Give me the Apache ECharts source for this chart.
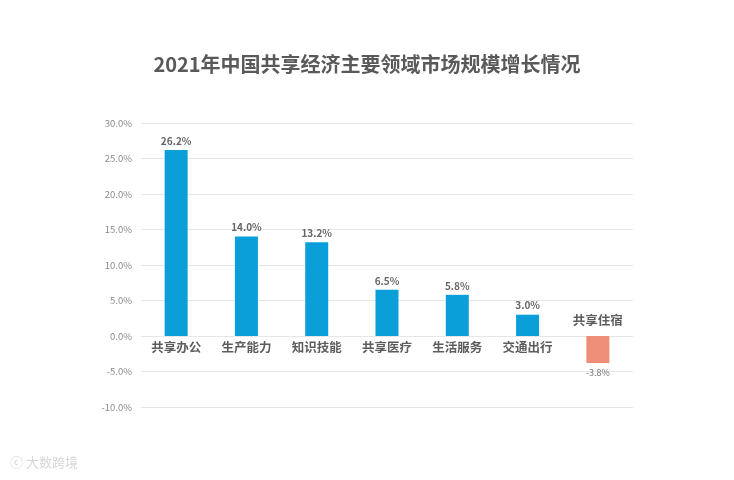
<!DOCTYPE html>
<html><head><meta charset="utf-8">
<script src="https://cdn.jsdelivr.net/npm/echarts@6/dist/echarts.min.js"></script>
<style>html,body{margin:0;padding:0;background:#fff}#c{width:734px;height:480px}</style>
</head><body><div id="c"></div>
<script>
const categories = ['共享办公','生产能力','知识技能','共享医疗','生活服务','交通出行','共享住宿'];
const values = [26.2, 14.0, 13.2, 6.5, 5.8, 3.0, -3.8];
const yTicks = [-10, -5, 0, 5, 10, 15, 20, 25, 30];

const font = '"Noto Sans CJK SC", "Noto Sans", sans-serif';
const chart = echarts.init(document.getElementById('c'));
const barData = values.map(v => ({
  value: v,
  itemStyle: { color: v >= 0 ? '#0a9fd9' : '#ef8e78' },
  label: v >= 0
    ? { position: 'top', fontWeight: 'bold', color: '#666', fontSize: 10, distance: 4 }
    : { position: 'bottom', fontWeight: 'normal', color: '#777', fontSize: 9, distance: 5 }
}));
const nameData = categories.map((c, i) => ({
  value: [c, 0],
  label: values[i] >= 0
    ? { position: 'bottom', distance: 5 }
    : { position: 'top', distance: 9 }
}));
chart.setOption({
  animation: false,
  title: {
    text: '2021年中国共享经济主要领域市场规模增长情况',
    left: 'center', top: 49,
    textStyle: { fontFamily: font, fontSize: 20, fontWeight: 'bold', color: '#595959' }
  },
  grid: { left: 141, right: 101, top: 123, bottom: 73 },
  xAxis: {
    type: 'category', data: categories,
    axisLine: { show: false }, axisTick: { show: false }, axisLabel: { show: false }
  },
  yAxis: {
    type: 'value', min: yTicks[0], max: yTicks[yTicks.length - 1], interval: 5,
    axisLine: { show: false }, axisTick: { show: false },
    axisLabel: { formatter: v => v.toFixed(1) + '%', color: '#8a8a8a', fontSize: 9.5, fontFamily: font, margin: 9 },
    splitLine: { lineStyle: { color: '#e6e6e6', width: 1 } }
  },
  series: [{
    type: 'bar', data: barData, barWidth: 23,
    label: { show: true, formatter: p => p.value.toFixed(1) + '%', fontFamily: font }
  }, {
    type: 'scatter', data: nameData, symbolSize: 0, silent: true,
    label: { show: true, formatter: p => p.value[0], fontFamily: font, fontWeight: 'bold', fontSize: 12.5, color: '#333' }
  }],
  graphic: [{
    type: 'text', left: 10, top: 456,
    style: { text: 'ⓒ 大数跨境', fill: '#d6d6d6', font: '13px ' + font }
  }]
});
</script></body></html>
